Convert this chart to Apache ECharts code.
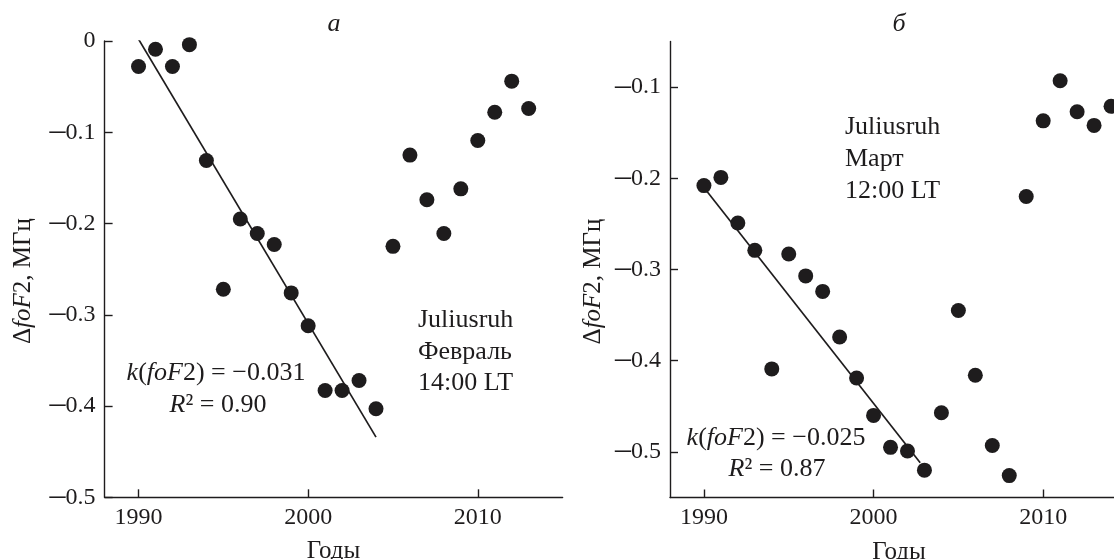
<!DOCTYPE html>
<html>
<head>
<meta charset="utf-8">
<script src="https://cdn.jsdelivr.net/npm/echarts@6/dist/echarts.min.js"></script>
<style>
html,body{margin:0;padding:0;background:#fff;}
#c{width:1114px;height:559px;}
</style>
</head>
<body>
<div id="c"></div>
<script>
// ---- data ----
const leftYears = [1990,1991,1992,1993,1994,1995,1996,1997,1998,1999,2000,2001,2002,2003,2004,2005,2006,2007,2008,2009,2010,2011,2012,2013];
const leftValues = [-0.028,-0.009,-0.028,-0.004,-0.131,-0.272,-0.195,-0.211,-0.223,-0.276,-0.312,-0.383,-0.383,-0.372,-0.403,-0.225,-0.125,-0.174,-0.211,-0.162,-0.109,-0.078,-0.044,-0.074];
const leftFitYears = [1990, 2004];
const leftFitValues = [0.002, -0.434];

const rightYears = [1990,1991,1992,1993,1994,1995,1996,1997,1998,1999,2000,2001,2002,2003,2004,2005,2006,2007,2008,2009,2010,2011,2012,2013,2014];
const rightValues = [-0.208,-0.199,-0.249,-0.279,-0.409,-0.283,-0.307,-0.324,-0.374,-0.419,-0.460,-0.495,-0.499,-0.520,-0.457,-0.345,-0.416,-0.493,-0.526,-0.220,-0.137,-0.093,-0.127,-0.142,-0.121];
const rightFitYears = [1990, 2002.75];
const rightFitValues = [-0.21, -0.512];

const xTicks = [1990, 2000, 2010];
const leftYTicks = [0, -0.1, -0.2, -0.3, -0.4, -0.5];
const rightYTicks = [-0.1, -0.2, -0.3, -0.4, -0.5];

// ---- helpers ----
const zip = (xs, ys) => xs.map((x, i) => [x, ys[i]]);
const FONT = 'Liberation Serif';
const INK = '#1e1c1d';
const fmtY = v => (Math.abs(v) < 1e-9 ? '{d|0}' : '{m|\u2013}{d|' + Math.abs(v).toFixed(1) + '}');
const fmtX = v => String(Math.round(v));

function xAxis(gi) {
  return {
    type: 'value', gridIndex: gi, min: 1988, max: 2015,
    name: 'Годы', nameLocation: 'middle', nameGap: 42,
    nameTextStyle: { fontFamily: FONT, fontSize: 25, color: INK },
    axisLine: { show: true, onZero: false, lineStyle: { color: INK, width: 1.4 } },
    axisTick: { show: true, inside: true, length: 8, customValues: xTicks, lineStyle: { color: INK, width: 1.4 } },
    axisLabel: { show: true, customValues: xTicks, margin: 8, fontFamily: FONT, fontSize: 24, color: INK, formatter: fmtX },
    splitLine: { show: false }
  };
}
function yAxis(gi, min, max, ticks, gap) {
  return {
    type: 'value', gridIndex: gi, min: min, max: max,
    name: '\u0394{i|foF}2, МГц', nameLocation: 'middle', nameGap: gap, nameRotate: 90,
    nameTextStyle: { fontFamily: FONT, fontSize: 25, color: INK, padding: [0, 24, 0, 0],
      rich: { i: { fontFamily: FONT, fontSize: 25, fontStyle: 'italic', color: INK } } },
    axisLine: { show: true, onZero: false, lineStyle: { color: INK, width: 1.4 } },
    axisTick: { show: true, inside: true, length: 8, customValues: ticks, lineStyle: { color: INK, width: 1.4 } },
    axisLabel: { show: true, customValues: ticks, margin: 9, fontFamily: FONT, fontSize: 24, color: INK, formatter: fmtY,
      rich: {
        d: { fontFamily: FONT, fontSize: 24, color: INK },
        m: { fontFamily: FONT, fontSize: 32, color: INK, padding: [0, 0, 2, 0] }
      } },
    splitLine: { show: false }
  };
}
function scatter(gi, data) {
  return { type: 'scatter', xAxisIndex: gi, yAxisIndex: gi, data: data, symbol: 'circle', symbolSize: 15,
    itemStyle: { color: INK, opacity: 1 }, silent: true, animation: false, z: 3 };
}
function fit(gi, data) {
  return { type: 'line', xAxisIndex: gi, yAxisIndex: gi, data: data, symbol: 'none',
    lineStyle: { color: INK, width: 1.7, opacity: 1 }, silent: true, animation: false, z: 2 };
}
const richBase = {
  n: { fontFamily: FONT, fontSize: 26, fill: INK },
  i: { fontFamily: FONT, fontSize: 26, fontStyle: 'italic', fill: INK }
};
function txt(x, y, text, align) {
  return { type: 'text', x: x, y: y, style: { text: text, rich: richBase, fontFamily: FONT, fontSize: 26,
    fill: INK, align: align || 'left', verticalAlign: 'middle' } };
}

const chart = echarts.init(document.getElementById('c'), null, { renderer: 'canvas' });
chart.setOption({
  backgroundColor: '#ffffff',
  animation: false,
  textStyle: { fontFamily: FONT, fontSize: 24, color: INK },
  grid: [
    { left: 104.6, top: 41, width: 458, height: 456.3, containLabel: false, outerBoundsMode: 'none' },
    { left: 670, top: 41.5, width: 458, height: 456, containLabel: false, outerBoundsMode: 'none' }
  ],
  xAxis: [xAxis(0), xAxis(1)],
  yAxis: [yAxis(0, -0.5, 0, leftYTicks, 69), yAxis(1, -0.55, -0.05, rightYTicks, 64)],
  series: [
    fit(0, zip(leftFitYears, leftFitValues)),
    scatter(0, zip(leftYears, leftValues)),
    fit(1, zip(rightFitYears, rightFitValues)),
    scatter(1, zip(rightYears, rightValues))
  ],
  graphic: [
    txt(334, 24, '{i|а}', 'center'),
    txt(899, 24, '{i|б}', 'center'),
    txt(418, 320, '{n|Juliusruh}'),
    txt(418, 352, '{n|Февраль}'),
    txt(418, 383, '{n|14:00 LT}'),
    txt(216, 373, '{i|k}{n|(}{i|foF}{n|2) = \u22120.031}', 'center'),
    txt(218, 405, '{i|R}{n|² = 0.90}', 'center'),
    txt(845, 127, '{n|Juliusruh}'),
    txt(845, 159, '{n|Март}'),
    txt(845, 191, '{n|12:00 LT}'),
    txt(776, 438, '{i|k}{n|(}{i|foF}{n|2) = \u22120.025}', 'center'),
    txt(777, 469, '{i|R}{n|² = 0.87}', 'center')
  ]
});
</script>
</body>
</html>
